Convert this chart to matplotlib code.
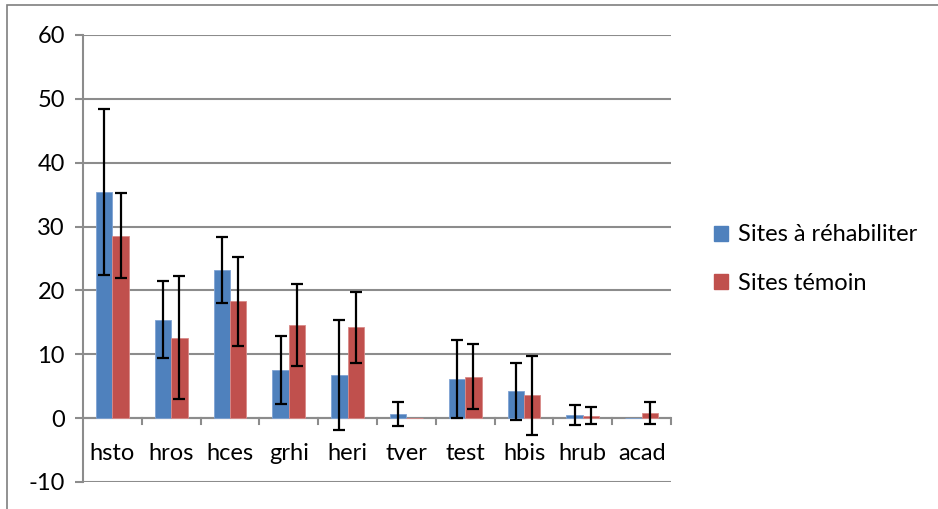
import numpy as np
import matplotlib.pyplot as plt
from matplotlib.patches import Rectangle

categories = ['hsto', 'hros', 'hces', 'grhi', 'heri', 'tver', 'test', 'hbis', 'hrub', 'acad']
rehab_mean = [35.4, 15.4, 23.2, 7.5, 6.8, 0.6, 6.2, 4.2, 0.5, 0.0]
rehab_err = [13.0, 6.0, 5.2, 5.3, 8.6, 1.9, 6.1, 4.5, 1.6, np.nan]
temoin_mean = [28.6, 12.6, 18.3, 14.6, 14.2, 0.0, 6.5, 3.6, 0.4, 0.8]
temoin_err = [6.6, 9.6, 7.0, 6.4, 5.6, np.nan, 5.1, 6.2, 1.3, 1.7]

blue = '#4F81BD'
red = '#C0504D'
grid_col = '#8C8C8C'

plt.rcParams['font.family'] = ['Lato', 'DejaVu Sans']
plt.rcParams['axes.unicode_minus'] = False

fig = plt.figure(figsize=(9.38, 5.09), dpi=100)
ax = fig.add_axes([83 / 938, 1 - 482 / 509, (671 - 83) / 938, (482 - 35) / 509])

x = np.arange(len(categories))
w = 0.28
ekw = dict(ecolor='black', elinewidth=1.6, capsize=4.3, capthick=1.6)
ax.bar(x - w / 2, rehab_mean, w, color=blue, edgecolor='#7FA3D4', linewidth=0.6,
       yerr=rehab_err, error_kw=ekw, zorder=3, label='Sites à réhabiliter')
ax.bar(x + w / 2, temoin_mean, w, color=red, edgecolor='#D98A88', linewidth=0.6,
       yerr=temoin_err, error_kw=ekw, zorder=3, label='Sites témoin')

ax.set_xlim(-0.5, len(categories) - 0.5)
ax.set_ylim(-10, 60)
ax.set_yticks(range(-10, 61, 10))
ax.yaxis.grid(True, color=grid_col, linewidth=1.5)
ax.set_axisbelow(True)

for s in ['top', 'right', 'bottom']:
    ax.spines[s].set_visible(False)
ax.spines['left'].set_color(grid_col)
ax.spines['left'].set_linewidth(1.5)
ax.tick_params(axis='y', length=6, width=1.5, color=grid_col, labelsize=17, pad=7)

# category axis drawn at zero
ax.axhline(0, color=grid_col, linewidth=1.5, zorder=2)
ax.set_xticks([])
bounds = np.arange(len(categories) + 1) - 0.5
for b in bounds[1:]:
    ax.plot([b, b], [0, -0.9], color=grid_col, linewidth=1.5, clip_on=False, zorder=2)
for i, name in enumerate(categories):
    ax.text(i, -5.5, name, ha='center', va='center', fontsize=17)

handles = [Rectangle((0, 0), 1, 1, color=blue), Rectangle((0, 0), 1, 1, color=red)]
fig.legend(handles, ['Sites à réhabiliter', 'Sites témoin'], loc='center left',
           bbox_to_anchor=(693 / 938, 1 - 259 / 509), frameon=False, fontsize=17,
           handlelength=0.6, handleheight=0.6, handletextpad=0.4, labelspacing=1.15)

fig.patches.append(Rectangle((7 / 938, -0.1), 1.2, 1 - 5 / 509 + 0.1, transform=fig.transFigure,
                             fill=False, edgecolor='#7F7F7F', linewidth=1.2))

fig.savefig('out.png', dpi=100)
